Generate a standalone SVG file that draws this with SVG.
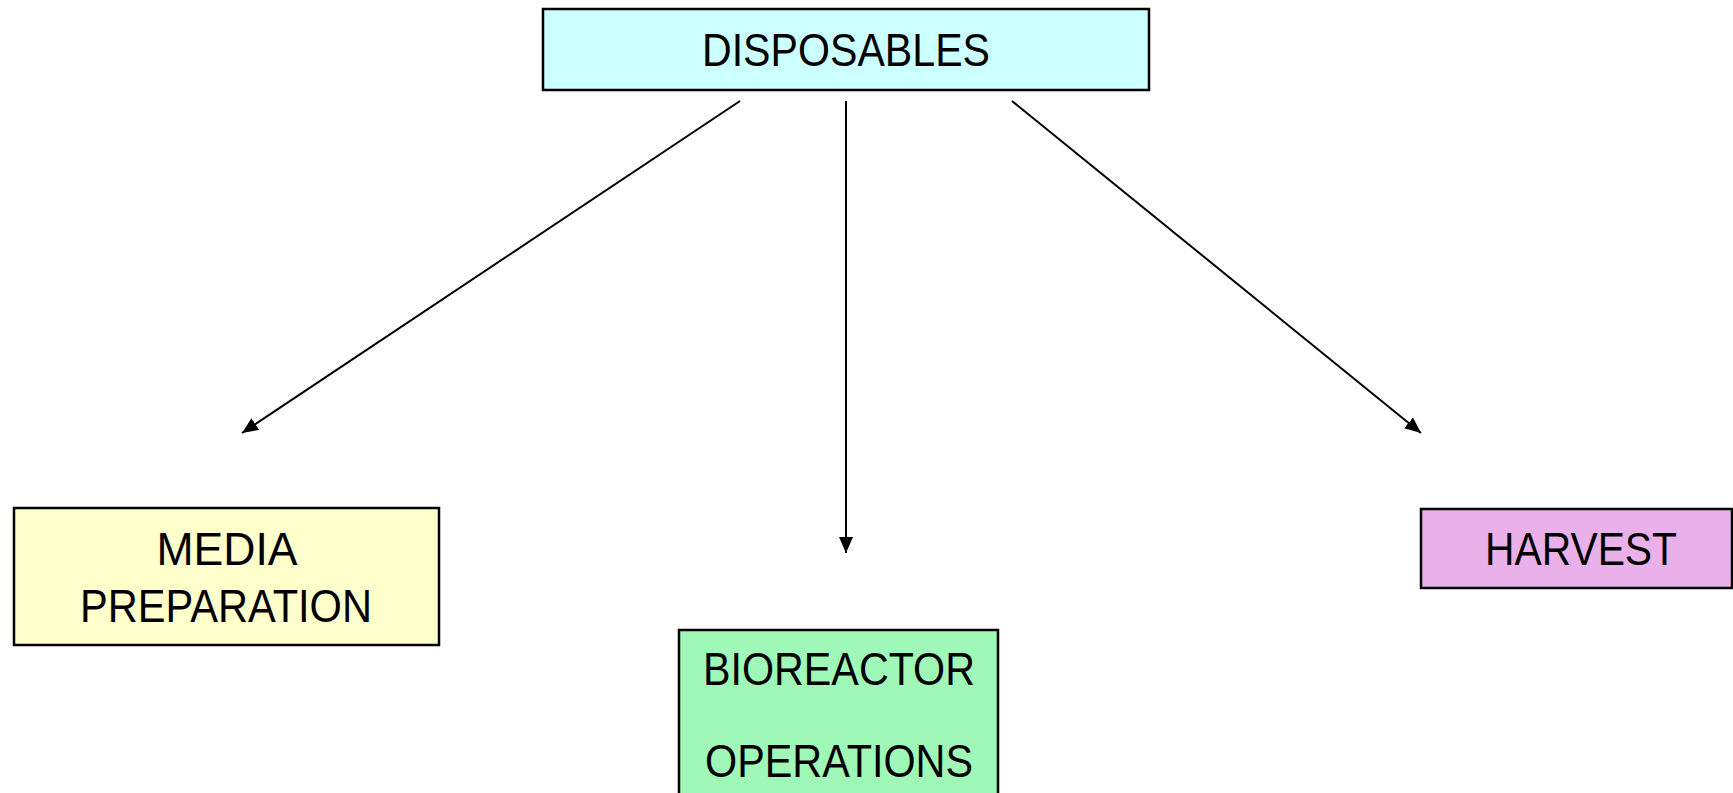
<svg xmlns="http://www.w3.org/2000/svg" width="1733" height="793" viewBox="0 0 1733 793">
<style>
.box{stroke:#000;stroke-width:2.5}
.lbl{font-family:"Liberation Sans",Arial,sans-serif;font-size:46px;fill:#000;text-anchor:middle}
.conn{stroke:#000;stroke-width:2;fill:none;marker-end:url(#ah)}
</style>
<defs>
<marker id="ah" markerUnits="userSpaceOnUse" markerWidth="16" markerHeight="14" refX="16" refY="7" orient="auto">
<path d="M0,0 L16,7 L0,14 z" fill="#000"/>
</marker>
</defs>
<rect width="1733" height="793" fill="#fff"/>
<g id="disposables">
<rect class="box" x="543" y="9" width="606" height="81" fill="#CCFFFF"/>
<text class="lbl" x="846" y="66" textLength="288" lengthAdjust="spacingAndGlyphs">DISPOSABLES</text>
</g>
<g id="media">
<rect class="box" x="14" y="508" width="425" height="137" fill="#FFFFCC"/>
<text class="lbl" x="227" y="565" textLength="141" lengthAdjust="spacingAndGlyphs">MEDIA</text>
<text class="lbl" x="226" y="622" textLength="292" lengthAdjust="spacingAndGlyphs">PREPARATION</text>
</g>
<g id="bioreactor">
<rect class="box" x="679" y="630" width="319" height="175" fill="#A0F8B8"/>
<text class="lbl" x="839" y="685" textLength="272" lengthAdjust="spacingAndGlyphs">BIOREACTOR</text>
<text class="lbl" x="839" y="777" textLength="268" lengthAdjust="spacingAndGlyphs">OPERATIONS</text>
</g>
<g id="harvest">
<rect class="box" x="1421" y="509" width="311" height="79" fill="#EAB0EA"/>
<text class="lbl" x="1581" y="565" textLength="192" lengthAdjust="spacingAndGlyphs">HARVEST</text>
</g>
<g id="connectors">
<line class="conn" x1="740" y1="101" x2="242" y2="433"/>
<line class="conn" x1="846" y1="101" x2="846" y2="553"/>
<line class="conn" x1="1012" y1="101" x2="1421" y2="433"/>
</g>
</svg>
